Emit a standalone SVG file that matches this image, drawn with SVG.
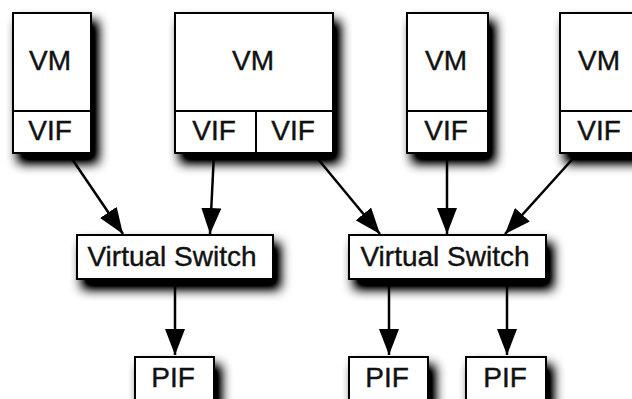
<svg xmlns="http://www.w3.org/2000/svg" width="632" height="399" viewBox="0 0 632 399">
  <style>
    .box { fill: #ffffff; stroke: #000000; stroke-width: 2; }
    .div { stroke: #000000; stroke-width: 2; fill: none; }
    .lbl { font-family: "Liberation Sans", Arial, sans-serif; font-size: 28px; fill: #111111; stroke: #111111; stroke-width: 0.4; text-anchor: middle; }
    .edge { stroke: #000000; stroke-width: 2.5; fill: none; marker-end: url(#arrow); }
  </style>
  <defs>
    <filter id="shadow" x="-40%" y="-40%" width="190%" height="190%">
      <feGaussianBlur in="SourceAlpha" stdDeviation="6"/>
      <feOffset dx="6" dy="9" result="b"/>
      <feComponentTransfer><feFuncA type="linear" slope="1.4"/></feComponentTransfer>
      <feMerge><feMergeNode/><feMergeNode in="SourceGraphic"/></feMerge>
    </filter>
    <marker id="arrow" viewBox="0 0 26 20" refX="26" refY="10" markerWidth="26" markerHeight="20" markerUnits="userSpaceOnUse" orient="auto">
      <path d="M0,0 L26,10 L0,20 z" fill="#000000"/>
    </marker>
  </defs>
  <rect width="632" height="399" fill="#ffffff"/>

  <g id="vm1">
    <rect class="box" x="13" y="13" width="78" height="140" filter="url(#shadow)"/>
    <line class="div" x1="13" y1="111" x2="91" y2="111"/>
    <text class="lbl" x="50" y="70">VM</text>
    <text class="lbl" x="50" y="140">VIF</text>
  </g>

  <g id="vm2">
    <rect class="box" x="175" y="13" width="158" height="140" filter="url(#shadow)"/>
    <line class="div" x1="175" y1="111" x2="333" y2="111"/>
    <line class="div" x1="256" y1="111" x2="256" y2="153"/>
    <text class="lbl" x="253" y="70">VM</text>
    <text class="lbl" x="214" y="140">VIF</text>
    <text class="lbl" x="293" y="140">VIF</text>
  </g>

  <g id="vm3">
    <rect class="box" x="407" y="13" width="81" height="140" filter="url(#shadow)"/>
    <line class="div" x1="407" y1="111" x2="488" y2="111"/>
    <text class="lbl" x="446" y="70">VM</text>
    <text class="lbl" x="446" y="140">VIF</text>
  </g>

  <g id="vm4">
    <rect class="box" x="560" y="13" width="80" height="140" filter="url(#shadow)"/>
    <line class="div" x1="560" y1="111" x2="640" y2="111"/>
    <text class="lbl" x="599" y="70">VM</text>
    <text class="lbl" x="599" y="140">VIF</text>
  </g>

  <g id="vswitch1">
    <rect class="box" x="77" y="235" width="196" height="44" filter="url(#shadow)"/>
    <text class="lbl" x="172" y="266">Virtual Switch</text>
  </g>

  <g id="vswitch2">
    <rect class="box" x="349" y="235" width="197" height="44" filter="url(#shadow)"/>
    <text class="lbl" x="445" y="266">Virtual Switch</text>
  </g>

  <g id="pif1">
    <rect class="box" x="135" y="357" width="79" height="44" filter="url(#shadow)"/>
    <text class="lbl" x="173" y="387">PIF</text>
  </g>

  <g id="pif2">
    <rect class="box" x="349" y="357" width="79" height="44" filter="url(#shadow)"/>
    <text class="lbl" x="387" y="387">PIF</text>
  </g>

  <g id="pif3">
    <rect class="box" x="466" y="357" width="80" height="44" filter="url(#shadow)"/>
    <text class="lbl" x="505" y="387">PIF</text>
  </g>

  <g id="connectors">
    <line class="edge" x1="68" y1="153" x2="123" y2="234"/>
    <line class="edge" x1="214" y1="153" x2="210" y2="234"/>
    <line class="edge" x1="313" y1="153" x2="380" y2="234"/>
    <line class="edge" x1="447" y1="153" x2="447" y2="234"/>
    <line class="edge" x1="578" y1="153" x2="505" y2="234"/>
    <line class="edge" x1="175" y1="279" x2="175" y2="355"/>
    <line class="edge" x1="389" y1="279" x2="389" y2="355"/>
    <line class="edge" x1="507" y1="279" x2="507" y2="355"/>
  </g>
</svg>
